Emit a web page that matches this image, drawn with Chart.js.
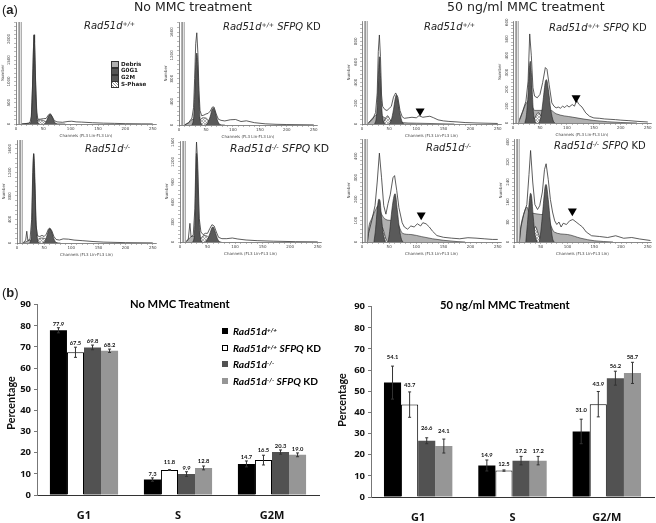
<!DOCTYPE html>
<html><head><meta charset="utf-8">
<script src="https://cdn.jsdelivr.net/npm/chart.js@4"></script>
<style>
html,body{margin:0;padding:0;background:#fff;width:656px;height:523px;overflow:hidden}
#page{position:relative;width:656px;height:523px;filter:blur(.35px)}
canvas{position:absolute;display:block}
.t{position:absolute;white-space:nowrap;line-height:1;color:#222}
.t sup{font-size:62%;line-height:0;vertical-align:baseline;position:relative;top:-.42em}
.h{font-family:"DejaVu Sans";font-size:10px;color:#222}
.lg{font-family:Lato;font-weight:700;font-size:10.2px;color:#000}
.sw{position:absolute;width:6px;height:6px;box-sizing:border-box}
.k{position:absolute;box-sizing:border-box;width:8px;height:7px;border:1px solid #333}
.kt{position:absolute;font:bold 5.6px "DejaVu Sans";color:#222;white-space:nowrap;line-height:1}
</style></head><body><div id="page"></div>
<script>
// ---------- panel (b) data ----------
const barPhasesA=["G1","S","G2M"];
const barPhasesB=["G1","S","G2/M"];
const seriesNames=["Rad51d+/+","Rad51d+/+ SFPQ KD","Rad51d-/-","Rad51d-/- SFPQ KD"];
const noMmcWT=[77.9,7.3,14.7], noMmcWTKD=[67.5,11.8,16.5], noMmcKO=[69.8,9.9,20.3], noMmcKOKD=[68.2,12.8,19.0];
const noMmcWTErr=[1.2,0.8,1.4], noMmcWTKDErr=[2.4,0.2,2.3], noMmcKOErr=[1.1,1.1,1.0], noMmcKOKDErr=[0.8,0.9,0.9];
const mmcWT=[54.1,14.9,31.0], mmcWTKD=[43.7,12.5,43.9], mmcKO=[26.6,17.2,56.2], mmcKOKD=[24.1,17.2,58.7];
const mmcWTErr=[7.8,2.6,5.8], mmcWTKDErr=[6.0,0.3,6.0], mmcKOErr=[1.4,2.0,3.3], mmcKOKDErr=[3.3,2.0,5.0];
const percentTicks=[0,10,20,30,40,50,60,70,80,90];
// ---------- panel (a) data: [channel, count] ----------
const aDebris=[[10,0],[20,12],[30,25],[40,15],[60,6],[90,0]];
const aG1=[[26,0],[28,150],[30,800],[32,1800],[33,2090],[34,1900],[36,900],[38,250],[40,40],[42,0]];
const aG2=[[52,0],[55,50],[58,140],[61,215],[63,225],[66,170],[69,80],[72,20],[75,0]];
const aS=[[28,0],[35,50],[42,95],[48,90],[54,60],[60,25],[68,0]];
const aLine=[[10,0],[24,20],[26,60],[28,180],[30,820],[32,1820],[33,2100],[34,1920],[36,920],[38,280],[40,110],[45,115],[50,125],[55,130],[60,225],[63,240],[66,180],[70,80],[75,50],[85,40],[95,60],[102,65],[110,50],[120,45],[140,30],[160,20],[180,15],[200,8],[230,4],[250,2]];
const bDebris=[[10,0],[18,40],[26,100],[34,90],[44,30],[60,8],[85,0]];
const bG1=[[24,0],[27,120],[29,500],[31,1050],[33,1240],[35,1000],[37,480],[39,120],[42,0]];
const bG2=[[50,0],[54,50],[58,150],[61,260],[64,290],[67,230],[71,90],[75,15],[78,0]];
const bS=[[32,0],[38,70],[44,125],[50,120],[56,70],[62,25],[70,0]];
const bLine=[[10,0],[18,40],[24,120],[27,300],[29,800],[31,1400],[33,1590],[35,1250],[37,600],[39,250],[42,160],[46,170],[50,190],[54,200],[58,240],[62,310],[65,310],[69,190],[73,100],[78,80],[85,70],[95,90],[105,95],[115,60],[125,72],[140,40],[160,20],[180,12],[200,8],[250,2]];
const cDebris=[[10,0],[15,30],[22,70],[28,90],[34,85],[42,60],[55,30],[70,15],[100,8],[140,3],[170,0]];
const cG1=[[23,0],[26,50],[28,180],[30,450],[32,650],[34,470],[36,200],[38,60],[42,0]];
const cG2=[[50,0],[54,40],[58,140],[61,240],[63,280],[66,230],[70,100],[74,20],[77,0]];
const cS=[[38,0],[43,50],[47,80],[51,50],[56,0]];
const cLine=[[12,10],[20,50],[25,110],[28,300],[30,700],[32,860],[34,650],[36,280],[38,170],[42,140],[46,130],[50,150],[54,170],[58,260],[62,300],[66,260],[70,130],[74,70],[78,55],[85,60],[92,65],[100,60],[105,80],[112,65],[118,70],[125,75],[132,60],[140,40],[150,30],[160,25],[175,20],[190,14],[210,10],[250,5]];
const cMark=[[107,125]];
const dDebris=[[10,0],[15,40],[20,85],[25,120],[30,130],[36,95],[40,75],[50,75],[60,75],[70,75],[80,55],[110,35],[150,15],[200,3],[230,0]];
const dG1=[[22,0],[25,50],[28,180],[30,310],[32,367],[34,300],[36,170],[38,60],[42,0]];
const dG2=[[48,0],[52,40],[56,140],[60,245],[62,258],[66,190],[70,80],[75,10],[78,0]];
const dS=[[36,0],[42,40],[47,62],[52,40],[58,0]];
const dLine=[[12,20],[18,70],[24,130],[28,250],[31,530],[34,400],[37,210],[40,160],[45,150],[50,170],[55,240],[60,330],[63,320],[67,230],[72,120],[76,100],[80,90],[84,95],[88,88],[92,100],[96,92],[100,105],[104,95],[110,110],[114,100],[118,135],[122,112],[128,95],[135,60],[142,40],[150,30],[160,28],[170,24],[180,22],[190,20],[200,17],[215,14],[230,10],[250,6]];
const dMark=[[117,149]];
const eDebris=[[10,0],[16,20],[24,50],[34,30],[50,8],[80,0]];
const eG1=[[23,0],[26,80],[28,600],[30,1400],[31,1520],[33,1100],[35,400],[38,60],[41,0]];
const eG2=[[48,0],[52,40],[56,150],[59,235],[61,245],[64,190],[68,70],[72,10],[75,0]];
const eS=[[30,0],[37,50],[44,85],[50,80],[56,50],[62,15],[68,0]];
const eLine=[[12,10],[16,50],[18,200],[20,40],[24,70],[27,400],[29,1200],[30.5,1520],[32,1200],[35,300],[38,120],[42,110],[46,130],[50,110],[54,150],[58,240],[60,255],[64,210],[68,110],[72,60],[78,50],[85,70],[95,65],[105,50],[120,40],[140,25],[160,15],[200,6],[250,2]];
const fDebris=[[10,0],[15,40],[20,80],[26,90],[34,50],[50,10],[75,0]];
const fG1=[[23,0],[26,100],[28,650],[30,1330],[32,1050],[34,450],[37,80],[40,0]];
const fG2=[[46,0],[50,40],[54,120],[58,215],[60,225],[64,150],[68,50],[72,0]];
const fS=[[32,0],[38,60],[44,100],[50,85],[56,40],[64,0]];
const fLine=[[12,10],[15,40],[18,280],[20,80],[24,100],[27,500],[29,1300],[30,1500],[32,1200],[35,350],[38,150],[42,110],[46,130],[50,130],[54,200],[58,260],[62,240],[66,150],[70,70],[76,50],[85,50],[95,60],[105,45],[120,30],[140,20],[170,12],[210,5],[250,2]];
const gDebris=[[10,0],[12,60],[18,110],[25,150],[30,170],[36,130],[44,105],[55,100],[65,90],[75,40],[90,35],[110,25],[130,15],[150,8],[175,2],[190,0]];
const gG1=[[22,0],[25,60],[28,150],[31,200],[33,195],[36,110],[39,40],[43,0]];
const gG2=[[48,0],[51,50],[55,150],[59,215],[61,225],[65,150],[69,60],[73,10],[76,0]];
const gS=[[26,0],[30,30],[34,60],[37,70],[40,50],[44,15],[47,0]];
const gLine=[[10,0],[12,40],[18,100],[24,170],[28,280],[32,415],[36,300],[40,170],[44,130],[48,180],[52,220],[57,300],[60,310],[64,240],[68,160],[74,90],[78,70],[84,60],[90,75],[96,70],[102,85],[108,75],[112,90],[118,85],[124,70],[130,50],[138,30],[150,22],[165,18],[180,15],[195,20],[210,18],[225,15],[240,12],[250,12]];
const gMark=[[109,126]];
const hDebris=[[10,0],[12,50],[18,110],[24,140],[28,120],[35,115],[50,110],[60,105],[70,60],[75,40],[100,30],[125,15],[150,5],[185,0]];
const hG1=[[22,0],[25,70],[28,150],[31,195],[33,180],[36,100],[39,35],[43,0]];
const hG2=[[47,0],[50,40],[54,130],[58,220],[60,230],[64,170],[68,80],[72,15],[75,0]];
const hS=[[30,0],[35,35],[40,62],[45,35],[51,0]];
const hLine=[[10,0],[13,60],[18,110],[24,150],[28,270],[31,366],[35,240],[39,150],[44,130],[48,145],[53,200],[57,290],[60,313],[64,250],[68,170],[72,120],[76,85],[80,70],[84,80],[88,60],[92,75],[98,70],[104,85],[110,90],[116,80],[122,70],[128,60],[135,40],[145,25],[160,22],[175,18],[190,25],[205,15],[220,18],[235,12],[255,6]];
const hMark=[[109,124]];
const channelTicks=[0,50,100,150,200,250];
const gateChannels=[6,10];

// ---------- layout (separate from data) ----------
const page=document.getElementById('page');
function mk(l,t,w,h){const c=document.createElement('canvas');c.width=w;c.height=h;c.style.left=l+'px';c.style.top=t+'px';c.style.width=w+'px';c.style.height=h+'px';page.appendChild(c);return c;}
function txt(html,l,cy,cls,style){const d=document.createElement('div');d.className='t '+cls;d.innerHTML=html;d.style.left=l+'px';d.style.top=cy+'px';d.style.transform='translateY(-50%)';if(style)d.style.cssText+=';'+style;page.appendChild(d);return d;}

function hatch(){const p=document.createElement('canvas');p.width=p.height=3;const x=p.getContext('2d');x.fillStyle='#f4f4f4';x.fillRect(0,0,3,3);x.strokeStyle='#888';x.lineWidth=.6;x.beginPath();x.moveTo(0,0);x.lineTo(3,3);x.moveTo(3,0);x.lineTo(0,3);x.stroke();return x.createPattern(p,'repeat');}
const hatchFill=hatch();
const Chs='Channels (FL3 Lin-FL3 Lin)';
function hist(o){
 const plotW=(o.x250-o.x0)*256/250, plotH=o.base-o.top;
 const c=mk(o.x0-16,o.top-3,Math.ceil(16+plotW+2),plotH+3+14);
 const comp=(data,bg,order,bw)=>({data,backgroundColor:bg,borderColor:'#222',borderWidth:bw,fill:'origin',pointRadius:0,cubicInterpolationMode:'monotone',order});
 const sets=[
  comp(o.d[0],'#b0b0b0',5,.6),comp(o.d[3],hatchFill,4,.6),comp(o.d[1],'#555',3,.6),comp(o.d[2],'#5a5a5a',3,.6),
  {data:o.d[4],fill:false,borderColor:'#333',borderWidth:.8,pointRadius:0,tension:0,order:2},
  {data:[[gateChannels[0],0],[gateChannels[0],o.ymax]],borderColor:'#999',borderWidth:2,pointRadius:0,order:1},
  {data:[[gateChannels[1],0],[gateChannels[1],o.ymax]],borderColor:'#999',borderWidth:.8,pointRadius:0,order:1}
 ];
 if(o.m)sets.push({data:o.m,showLine:false,pointStyle:'triangle',rotation:180,pointRadius:5.2,backgroundColor:'#000',borderColor:'#000',borderWidth:0,order:0});
 new Chart(c,{type:'line',data:{datasets:sets},options:{responsive:false,animation:false,events:[],
  layout:{autoPadding:false,padding:{top:3,right:2,left:0,bottom:0}},
  plugins:{legend:{display:false},tooltip:{enabled:false}},
  scales:{
   x:{type:'linear',min:0,max:256,afterFit:s=>{s.height=14},
    afterBuildTicks:s=>{s.ticks=[];for(let v=0;v<=250;v+=10)s.ticks.push({value:v})},
    border:{color:'#555',width:.7},grid:{drawOnChartArea:false,tickLength:2,color:'#777',lineWidth:.5},
    ticks:{autoSkip:false,maxRotation:0,minRotation:0,padding:1,color:'#444',font:{size:4,family:'DejaVu Sans'},callback:v=>channelTicks.includes(v)?String(v):''},
    title:{display:true,text:Chs,color:'#444',padding:0,font:{size:4,family:'DejaVu Sans'}}},
   y:{type:'linear',min:0,max:o.ymax,afterFit:s=>{s.width=16},
    afterBuildTicks:s=>{s.ticks=[];for(let v=0;v<=o.ymax;v+=o.step/5)s.ticks.push({value:v})},
    border:{color:'#555',width:.7},grid:{drawOnChartArea:false,tickLength:2,color:'#777',lineWidth:.5},
    ticks:{autoSkip:false,minRotation:90,maxRotation:90,crossAlign:'center',padding:0,color:'#444',font:{size:4,family:'DejaVu Sans'},callback:v=>(Math.round(v)%o.step===0)?String(Math.round(v)):''},
    title:{display:true,text:'Number',color:'#444',padding:{top:1,bottom:0},font:{size:4,family:'DejaVu Sans'}}}
  }}});
}
const panels=[
 {x0:16,x250:152,base:124,top:22,ymax:2400,step:500,d:[aDebris,aG1,aG2,aS,aLine]},
 {x0:179,x250:313,base:125,top:22,ymax:1776,step:400,d:[bDebris,bG1,bG2,bS,bLine]},
 {x0:362,x250:497,base:124,top:21,ymax:995,step:200,d:[cDebris,cG1,cG2,cS,cLine],m:cMark},
 {x0:513,x250:647,base:123,top:21,ymax:607,step:100,d:[dDebris,dG1,dG2,dS,dLine],m:dMark},
 {x0:17,x250:152,base:243,top:140,ymax:1753,step:400,d:[eDebris,eG1,eG2,eS,eLine]},
 {x0:180,x250:317,base:242,top:141,ymax:1515,step:300,d:[fDebris,fG1,fG2,fS,fLine]},
 {x0:362,x250:497,base:242,top:139,ymax:481,step:100,d:[gDebris,gG1,gG2,gS,gLine],m:gMark},
 {x0:514,x250:647,base:242,top:139,ymax:412,step:80,d:[hDebris,hG1,hG2,hS,hLine],m:hMark}
];
panels.forEach(hist);

// ---------- bar charts ----------
const errPlugin={id:'err',afterDatasetsDraw(ch,a,opt){
 const ctx=ch.ctx,y=ch.scales.y;
 ch.data.datasets.forEach((ds,i)=>{
  const m=ch.getDatasetMeta(i);
  m.data.forEach((el,j)=>{
   const v=ds.data[j],e=ds.err[j],top=y.getPixelForValue(v+e),bot=y.getPixelForValue(v-e),x=el.x;
   ctx.save();ctx.strokeStyle=opt.color;ctx.lineWidth=1;ctx.beginPath();
   ctx.moveTo(x,top);ctx.lineTo(x,bot);ctx.moveTo(x-1.5,top);ctx.lineTo(x+1.5,top);ctx.moveTo(x-1.5,bot);ctx.lineTo(x+1.5,bot);ctx.stroke();
   ctx.fillStyle='#111';ctx.font='700 5.8px Lato';ctx.textAlign='center';ctx.textBaseline='middle';
   ctx.fillText(v.toFixed(1),x,top-opt.gaps[i][j]);ctx.restore();
  });
 });
 ctx.save();ctx.translate(opt.tx,opt.ty);ctx.rotate(-Math.PI/2);ctx.fillStyle='#111';ctx.font='700 10.7px Lato';ctx.textAlign='center';ctx.textBaseline='middle';ctx.fillText('Percentage',0,0);ctx.restore();
}};
function bars(o){
 const c=mk(o.left,o.top,o.w,o.h);
 const S=(label,data,err,bg,bc,bw)=>({label,data,err,backgroundColor:bg,borderColor:bc,borderWidth:bw,borderSkipped:'bottom'});
 new Chart(c,{type:'bar',data:{labels:o.labels,datasets:[
  S(seriesNames[0],o.v[0],o.e[0],'#000','#000',0),
  S(seriesNames[1],o.v[1],o.e[1],'#fff','#000',1),
  S(seriesNames[2],o.v[2],o.e[2],'#525252','#525252',0),
  S(seriesNames[3],o.v[3],o.e[3],'#969696','#969696',0)
 ]},plugins:[errPlugin],options:{responsive:false,animation:false,events:[],
  layout:{autoPadding:false,padding:{top:o.pt,right:1,left:0,bottom:0}},
  datasets:{bar:{categoryPercentage:.725,barPercentage:1}},
  plugins:{legend:{display:false},tooltip:{enabled:false},err:{color:'#333',gaps:o.gaps,tx:o.tx,ty:o.ty}},
  scales:{
   x:{afterFit:s=>{s.height=o.bh},border:{color:'#333',width:1},grid:{drawOnChartArea:false,drawTicks:false},
    ticks:{padding:14,color:'#111',maxRotation:0,font:{size:11,weight:700,family:'Open Sans'}}},
   y:{min:0,max:90,afterFit:s=>{s.width=o.yw},afterBuildTicks:s=>{s.ticks=percentTicks.map(value=>({value}))},
    border:{color:'#777',width:1},grid:{drawOnChartArea:false,tickLength:3,color:'#777'},
    ticks:{padding:3,color:'#111',font:{size:9.5,weight:700,family:'Open Sans'}}}
  }}});
}
bars({left:4,top:296,w:316,h:227,pt:6,bh:28,yw:33,tx:8,ty:107,labels:barPhasesA,
 v:[noMmcWT,noMmcWTKD,noMmcKO,noMmcKOKD],e:[noMmcWTErr,noMmcWTKDErr,noMmcKOErr,noMmcKOKDErr],
 gaps:[[4,4,4],[4,7,5],[4,4,4],[4,5,4]]});
bars({left:338,top:298,w:317,h:225,pt:6,bh:26,yw:33,tx:5,ty:102,labels:barPhasesB,
 v:[mmcWT,mmcWTKD,mmcKO,mmcKOKD],e:[mmcWTErr,mmcWTKDErr,mmcKOErr,mmcKOKDErr],
 gaps:[[8.5,5,9],[7,6,7],[10,5,5],[8,5,5]]});

// ---------- text ----------
txt('(<b>a</b>)',2,9,'',"font:13px 'Liberation Sans';color:#222");
txt('(<b>b</b>)',2,292,'',"font:13px 'Liberation Sans';color:#222");
txt('No MMC treatment',134,6,'',"font:12.5px 'DejaVu Sans';color:#222");
txt('50 ng/ml MMC treatment',447,6,'',"font:12.6px 'DejaVu Sans';color:#222");
const WT='<i>Rad51d<sup>+/+</sup></i>',KO='<i>Rad51d<sup>-/-</sup></i>';
const SF=' <i>SFPQ</i> KD';
[[WT,84,26],[WT+SF,223,27],[WT,424,27],[WT+SF,549,28],[KO,85,149],[KO+SF,230,149,10.8],[KO,426,148],[KO+SF,554,146]].forEach(a=>txt(a[0],a[1],a[2],'h',a[3]?`font-size:${a[3]}px`:''));
txt('No MMC Treatment',130,303,'',"font:700 11.2px Lato;color:#000");
txt('50 ng/ml MMC Treatment',440,304,'',"font:700 11.2px Lato;color:#000");
// chart-(a) key
[['Debris','#b0b0b0'],['G0G1','#555'],['G2M','#555'],['S-Phase','#ddd']].forEach((k,i)=>{
 const s=document.createElement('div');s.className='k';s.style.left='111px';s.style.top=(61+i*6.8)+'px';s.style.background=k[1];
 if(i===3)s.style.background='repeating-linear-gradient(45deg,#fff 0 1px,#999 1px 2px)';
 page.appendChild(s);
 const t=document.createElement('div');t.className='kt';t.textContent=k[0];t.style.left='121px';t.style.top=(61.5+i*6.8)+'px';page.appendChild(t);
});
// chart-(b) key
[[WT,'#000','#000'],[WT+SF,'#fff','#000'],[KO,'#525252','#525252'],[KO+SF,'#969696','#969696']].forEach((k,i)=>{
 const y=[331,348,364,381][i];
 const s=document.createElement('div');s.className='sw';s.style.cssText+=`left:222px;top:${y-3}px;background:${k[1]};border:1px solid ${k[2]}`;page.appendChild(s);
 txt(k[0],233,y,'lg');
});
</script></body></html>
